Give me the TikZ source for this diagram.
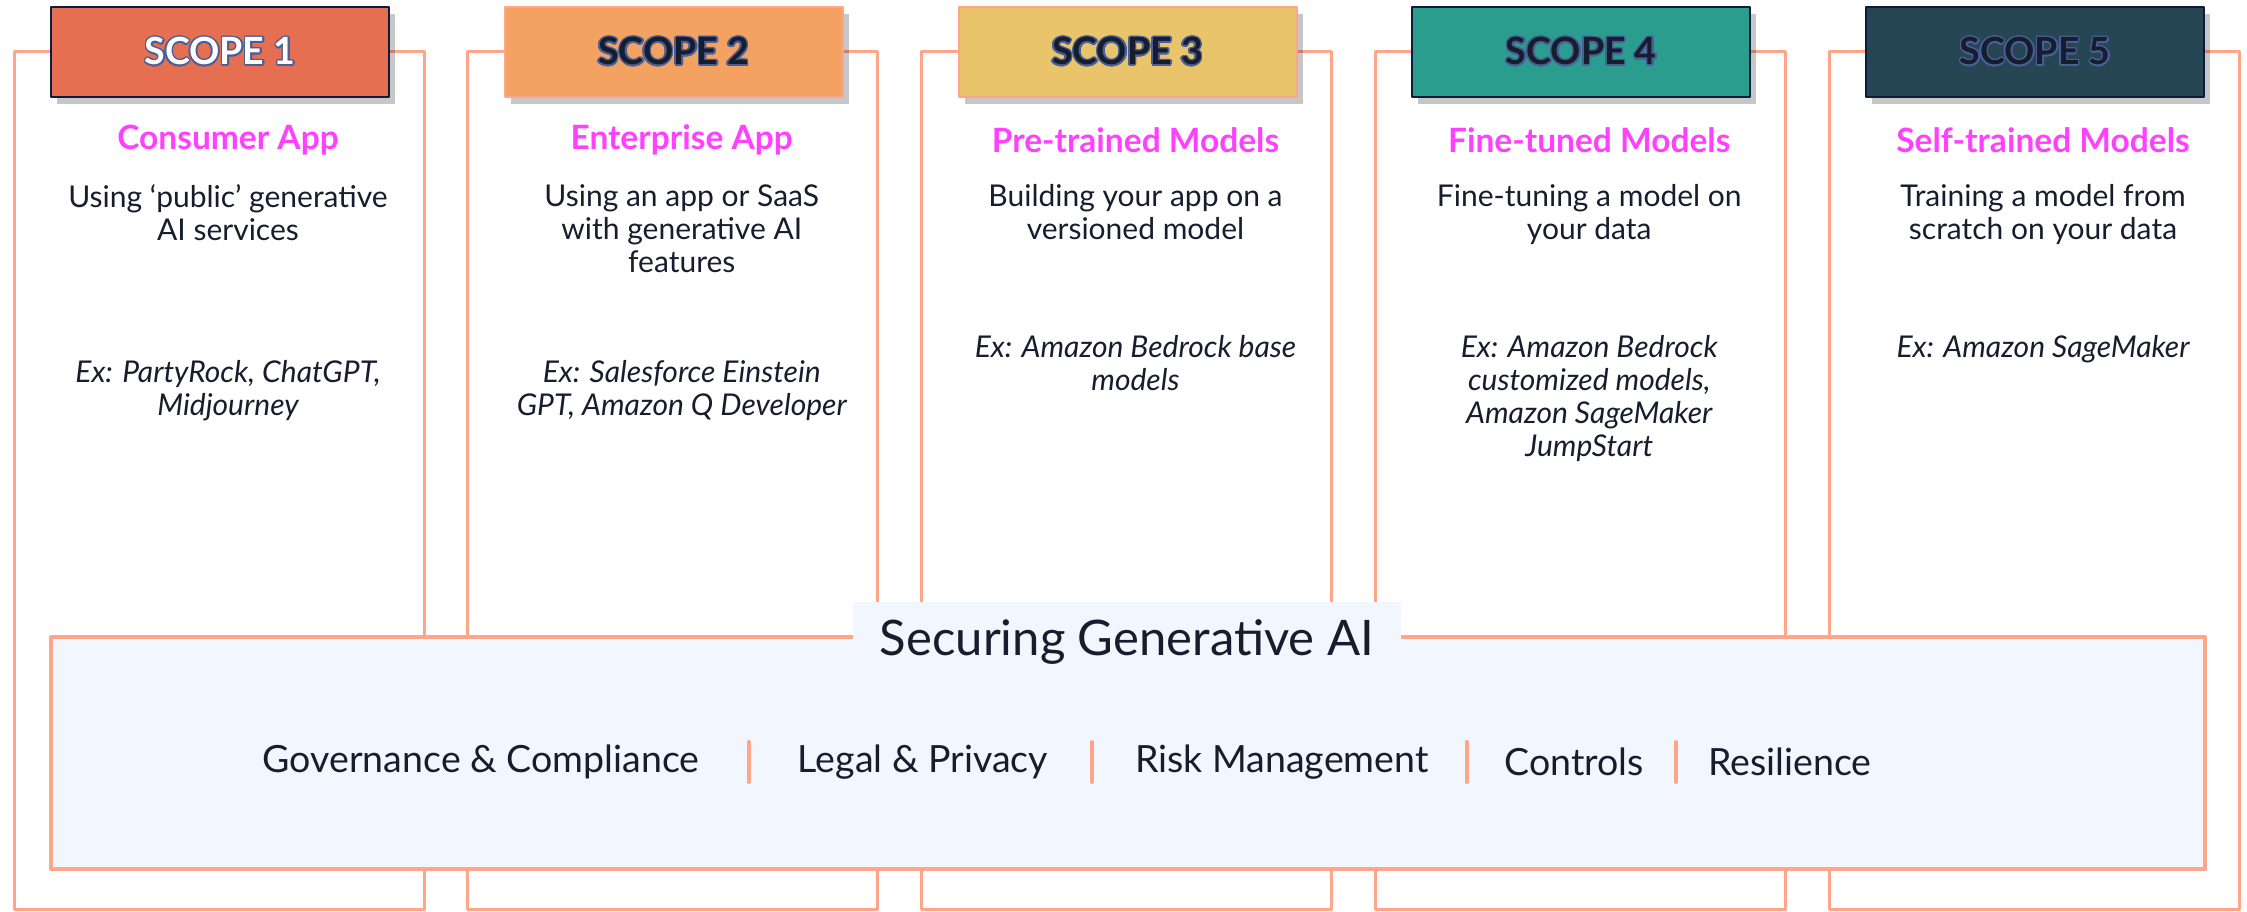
\documentclass[tikz,border=0pt]{standalone}
\usepackage{fontspec}
\setmainfont{Lato}
\usepackage{contour}
\usetikzlibrary{positioning, calc, shadows}

\definecolor{salmon}{HTML}{FFA58A}
\definecolor{basefill}{HTML}{F2F6FE}
\definecolor{pinktitle}{HTML}{FF40FF}
\definecolor{inkblue}{HTML}{161D2D}
\definecolor{navyedge}{HTML}{0F1B3C}
\definecolor{outlineblue}{HTML}{4A5E98}
\definecolor{scopeA}{HTML}{E76F51}
\definecolor{scopeB}{HTML}{F4A261}
\definecolor{scopeC}{HTML}{E9C46A}
\definecolor{scopeD}{HTML}{2A9D8F}
\definecolor{scopeE}{HTML}{264653}

\contourlength{1.6pt}

\tikzset{
  scopecol/.style={draw=salmon, line width=3pt, minimum width=410pt, minimum height=857pt, inner sep=0pt},
  headbox/.style={line width=2pt, minimum width=338pt, minimum height=90pt, inner sep=0pt,
    font=\fontsize{37.5}{40}\selectfont\bfseries,
    drop shadow={shadow xshift=6pt, shadow yshift=-7pt, fill=black, opacity=0.22}},
  scopetitle/.style={text=pinktitle, inner sep=0pt, font=\fontsize{33.5}{36}\selectfont\bfseries},
  scopedesc/.style={text=inkblue, inner sep=0pt, align=center, anchor=north, font=\fontsize{30}{33}\selectfont},
  scopeex/.style={text=inkblue, inner sep=0pt, align=center, anchor=north, font=\fontsize{30}{33}\selectfont\itshape},
  basebox/.style={draw=salmon, fill=basefill, line width=4pt, minimum width=2154pt, minimum height=232pt, inner sep=0pt},
  pillar/.style={text=inkblue, inner sep=0pt, font=\fontsize{37.5}{40}\selectfont},
  divider/.style={draw=salmon, line width=4pt, line cap=round}
}

\begin{document}
\begin{tikzpicture}[x=1pt,y=-1pt,line cap=round,line join=round]

\useasboundingbox (0,0) rectangle (2247,912);

% Scope columns
\foreach \i/\hc/\ec/\tc/\ttl/\dsc/\exmp/\ey in {
  1/scopeA/navyedge/white/{Consumer App}/{Using ‘public’ generative\\AI services}/{Ex: PartyRock, ChatGPT,\\Midjourney}/360,
  2/scopeB/salmon/inkblue/{Enterprise App}/{Using an app or SaaS\\with generative AI\\features}/{Ex: Salesforce Einstein\\GPT, Amazon Q Developer}/360,
  3/scopeC/salmon/inkblue/{Pre-trained Models}/{Building your app on a\\versioned model}/{Ex: Amazon Bedrock base\\models}/335,
  4/scopeD/navyedge/inkblue/{Fine-tuned Models}/{Fine-tuning a model on\\your data}/{Ex: Amazon Bedrock\\customized models,\\Amazon SageMaker\\JumpStart}/335,
  5/scopeE/navyedge/inkblue/{Self-trained Models}/{Training a model from\\scratch on your data}/{Ex: Amazon SageMaker}/335
} {
  \pgfmathsetmacro\cx{219+453.75*(\i-1)}
  \node[scopecol] (col\i) at (\cx,480.5) {};
  \node[headbox, fill=\hc, draw=\ec, text=\tc] (head\i) at (\cx+1,52) {\contour{outlineblue}{SCOPE \i}};
  \node[scopetitle] (title\i) at (\cx+9,140) {\ttl};
  \node[scopedesc] (desc\i) at (\cx+9,184) {\dsc};
  \node[scopeex] (ex\i) at (\cx+9,\ey) {\exmp};
}

% Securing generative AI
\node[basebox] (base) at (1128,753) {};
\node[fill=basefill, inner sep=0pt, minimum width=548pt, minimum height=80pt,
  text=inkblue, font=\fontsize{49}{52}\selectfont] (secure) at (1127,642) {Securing Generative AI};

\node[pillar] (gov) at (481,762) {Governance \& Compliance};
\node[pillar] (legal) at (923,762) {Legal \& Privacy};
\node[pillar] (risk) at (1282,762) {Risk Management};
\node[pillar] (ctrl) at (1574,762) {Controls};
\node[pillar] (resil) at (1790,762) {Resilience};

\foreach \a/\b in {gov/legal, legal/risk, risk/ctrl, ctrl/resil}
  \draw[divider] ($(\a.east)!0.5!(\b.west)$) ++(0,-20) -- ++(0,40);

\end{tikzpicture}
\end{document}
